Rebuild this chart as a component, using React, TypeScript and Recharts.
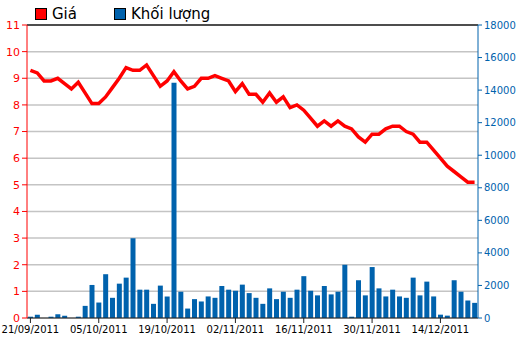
import React from "react";
import {
  ComposedChart,
  Bar,
  Line,
  XAxis,
  YAxis,
  CartesianGrid,
  ReferenceLine,
} from "recharts";

const dates = [
  "21/09/2011", "22/09/2011", "23/09/2011", "26/09/2011", "27/09/2011", "28/09/2011",
  "29/09/2011", "30/09/2011", "03/10/2011", "04/10/2011", "05/10/2011", "06/10/2011",
  "07/10/2011", "10/10/2011", "11/10/2011", "12/10/2011", "13/10/2011", "14/10/2011",
  "17/10/2011", "18/10/2011", "19/10/2011", "20/10/2011", "21/10/2011", "24/10/2011",
  "25/10/2011", "26/10/2011", "27/10/2011", "28/10/2011", "31/10/2011", "01/11/2011",
  "02/11/2011", "03/11/2011", "04/11/2011", "07/11/2011", "08/11/2011", "09/11/2011",
  "10/11/2011", "11/11/2011", "14/11/2011", "15/11/2011", "16/11/2011", "17/11/2011",
  "18/11/2011", "21/11/2011", "22/11/2011", "23/11/2011", "24/11/2011", "25/11/2011",
  "28/11/2011", "29/11/2011", "30/11/2011", "01/12/2011", "02/12/2011", "05/12/2011",
  "06/12/2011", "07/12/2011", "08/12/2011", "09/12/2011", "12/12/2011", "13/12/2011",
  "14/12/2011", "15/12/2011", "16/12/2011", "19/12/2011", "20/12/2011", "21/12/2011",
];

const gia = [
  9.3, 9.2, 8.9, 8.9, 9.0, 8.8, 8.6, 8.85, 8.45, 8.05,
  8.05, 8.3, 8.65, 9.0, 9.4, 9.3, 9.3, 9.5, 9.1, 8.7,
  8.9, 9.25, 8.9, 8.6, 8.7, 9.0, 9.0, 9.1, 9.0, 8.9,
  8.5, 8.8, 8.4, 8.4, 8.1, 8.45, 8.1, 8.3, 7.9, 8.0,
  7.8, 7.5, 7.2, 7.4, 7.2, 7.4, 7.2, 7.1, 6.8, 6.6,
  6.9, 6.9, 7.1, 7.2, 7.2, 7.0, 6.9, 6.6, 6.6, 6.3,
  6.0, 5.7, 5.5, 5.3, 5.1, 5.1,
];

const khoiLuong = [
  80, 200, 0, 80, 230, 145, 0, 80, 745, 2030,
  950, 2690, 1240, 2110, 2480, 4900, 1740, 1740, 870, 1990,
  1320, 14450, 1615, 580, 1160, 1015, 1325, 1240, 1965, 1740,
  1675, 2050, 1530, 1240, 870, 1820, 1160, 1615, 1240, 1740,
  2570, 1675, 1390, 1965, 1450, 1615, 3270, 80, 2320, 1390,
  3130, 1820, 1325, 1740, 1325, 1240, 2480, 1390, 2235, 1325,
  205, 145, 2320, 1615, 1075, 930,
];

const xTicks = ["21/09/2011", "05/10/2011", "19/10/2011", "02/11/2011", "16/11/2011", "30/11/2011", "14/12/2011"];
const leftTicks = [0, 1, 2, 3, 4, 5, 6, 7, 8, 9, 10, 11];
const rightTicks = [0, 2000, 4000, 6000, 8000, 10000, 12000, 14000, 16000, 18000];

const data = dates.map((d, i) => ({ date: d, gia: gia[i], kl: khoiLuong[i] }));

const RED = "#ff0000";
const BLUE = "#0062ad";
const FONT = "'DejaVu Sans', Verdana, sans-serif";

const LegendBox = () => (
  <div
    style={{
      position: "absolute",
      left: 35,
      top: 3,
      fontFamily: FONT,
      fontSize: 15,
      color: "#000",
      display: "flex",
      alignItems: "center",
      lineHeight: "22px",
    }}
  >
    <span style={{ width: 10, height: 10, background: RED, border: "1px solid #000", display: "inline-block", marginRight: 5 }} />
    <span style={{ marginRight: 37 }}>Giá</span>
    <span style={{ width: 10, height: 10, background: BLUE, border: "1px solid #000", display: "inline-block", marginRight: 5 }} />
    <span>Khối lượng</span>
  </div>
);

export default function App() {
  return (
    <div style={{ position: "absolute", left: 0, top: 0, width: 522, height: 342, background: "#fff" }}>
      <ComposedChart
        width={522}
        height={342}
        data={data}
        margin={{ top: 25, right: 0, bottom: 0, left: 0 }}
        barCategoryGap="25%"
      >
        <CartesianGrid yAxisId="left" vertical={false} stroke="#c4c4c4" strokeWidth={1.5} />
        <XAxis
          dataKey="date"
          ticks={xTicks}
          interval={0}
          height={24}
          tickSize={5}
          tickMargin={3}
          stroke="#222"
          tick={{ fill: "#000", fontSize: 10, fontFamily: FONT }}
        />
        <YAxis
          yAxisId="left"
          domain={[0, 11]}
          ticks={leftTicks}
          interval={0}
          width={27}
          tickSize={5}
          tickMargin={2}
          stroke={RED}
          tick={{ fill: RED, fontSize: 11, fontFamily: FONT }}
        />
        <YAxis
          yAxisId="right"
          orientation="right"
          domain={[0, 18000]}
          ticks={rightTicks}
          interval={0}
          width={44}
          tickSize={4}
          tickMargin={2}
          stroke={BLUE}
          tick={{ fill: BLUE, fontSize: 10, fontFamily: FONT }}
        />
        <ReferenceLine yAxisId="left" y={11} stroke="#222" strokeWidth={1.5} />
        <Bar yAxisId="right" dataKey="kl" fill={BLUE} barSize={5} isAnimationActive={false} />
        <Line
          yAxisId="left"
          type="linear"
          dataKey="gia"
          stroke={RED}
          strokeWidth={3.5}
          dot={false}
          activeDot={false}
          isAnimationActive={false}
        />
      </ComposedChart>
      <LegendBox />
    </div>
  );
}
